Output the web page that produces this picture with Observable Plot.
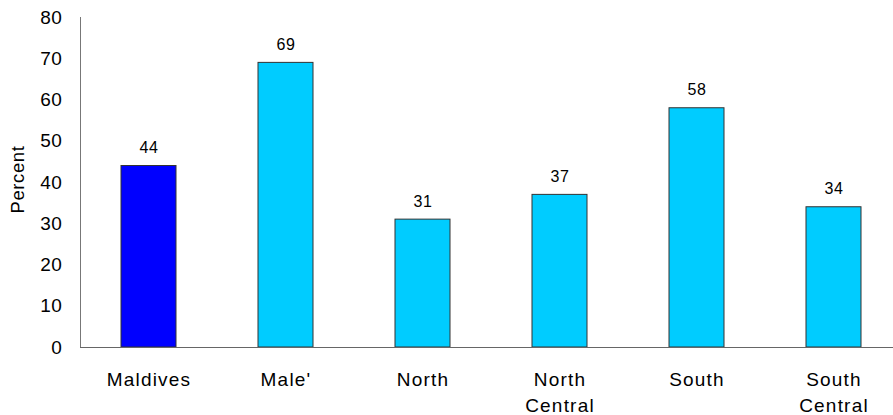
<!DOCTYPE html>
<html>
<head>
<meta charset="utf-8">
<script src="https://cdn.jsdelivr.net/npm/d3@7"></script>
<script src="https://cdn.jsdelivr.net/npm/@observablehq/plot@0.6"></script>
<style>
  html, body { margin: 0; padding: 0; background: #fff; }
  #chart svg { display: block; overflow: visible; }
  #chart svg text { letter-spacing: 0.6px; }
  #chart svg g[aria-label="x-axis tick label"] text { letter-spacing: 1.2px; }
</style>
</head>
<body>
<div id="chart"></div>
<script>
// Share of respondents by area (percent)
const regions = ["Maldives", "Male'", "North", "North Central", "South", "South Central"];
const regionLabels = ["Maldives", "Male'", "North", "North\nCentral", "South", "South\nCentral"];
const percents = [44, 69, 31, 37, 58, 34];
const barColors = ["#0000ff", "#00ccff", "#00ccff", "#00ccff", "#00ccff", "#00ccff"];
const yTicks = [0, 10, 20, 30, 40, 50, 60, 70, 80];

const rows = regions.map((r, i) => ({region: r, label: regionLabels[i], value: percents[i], color: barColors[i]}));
const labelOf = new Map(rows.map(d => [d.region, d.label]));

const chart = Plot.plot({
  width: 893,
  height: 415,
  marginLeft: 80,
  marginRight: 0,
  marginTop: 17,
  marginBottom: 68,
  style: {fontFamily: "Liberation Sans, Arial, sans-serif", color: "#000", background: "#fff"},
  // equal bands from the y axis; the last band runs a little past the page edge
  x: {domain: regions, range: [80, 902], paddingInner: 0.6, paddingOuter: 0.3, align: 0.5, label: null},
  y: {domain: [0, 80], label: null},
  marks: [
    Plot.barY(rows, {x: "region", y: "value", fill: "color", stroke: "#333", strokeWidth: 1}),
    Plot.frame({anchor: "left", stroke: "#777", strokeOpacity: 1}),
    Plot.frame({anchor: "bottom", stroke: "#666", strokeOpacity: 1}),
    Plot.axisY({ticks: yTicks, tickSize: 0, tickPadding: 18, fontSize: 19, label: null}),
    Plot.axisX({tickSize: 0, tickPadding: 20, fontSize: 19, lineHeight: 1.37, tickFormat: d => labelOf.get(d), label: null}),
    Plot.text(["Percent"], {frameAnchor: "left", textAnchor: "middle", dx: -62, dy: -3, rotate: -90, fontSize: 18.5}),
    Plot.text(rows, {x: "region", y: "value", text: d => String(d.value), dy: -18, fontSize: 16})
  ]
});
document.getElementById("chart").appendChild(chart);
</script>
</body>
</html>
